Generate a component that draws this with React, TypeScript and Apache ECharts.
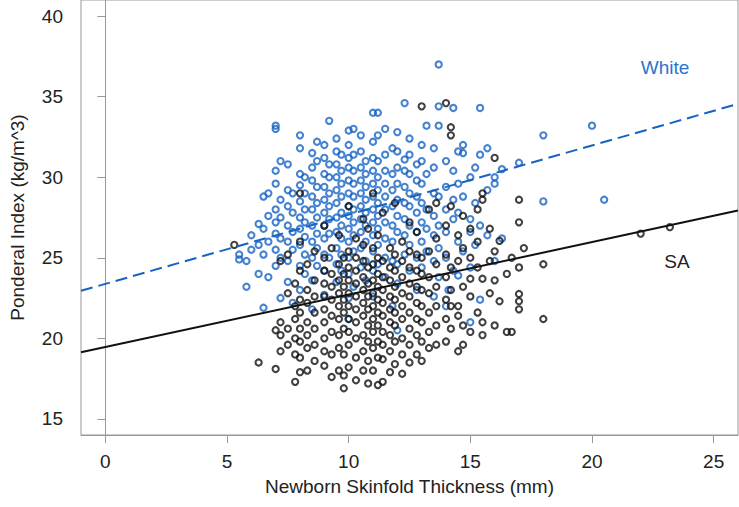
import React, { useEffect, useRef } from "react";
import * as echarts from "echarts";

// White group: [skinfold x, ponderal index values at that x]
const whiteCols: [number, number[]][] = [
  [5.5, [24.9, 25.2]],
  [5.8, [23.2, 24.8]],
  [6.0, [25.5, 26.4]],
  [6.3, [24.0, 25.8, 27.1]],
  [6.5, [21.9, 25.2, 26.8, 28.8]],
  [6.7, [23.8, 26.0, 27.6, 29.0]],
  [7.0, [24.5, 25.5, 26.5, 27.2, 28.0, 29.6, 30.4, 33.0, 33.2]],
  [7.2, [22.5, 25.0, 26.2, 27.5, 28.6, 31.0]],
  [7.5, [23.5, 24.8, 26.0, 27.0, 28.2, 29.2, 30.8]],
  [7.7, [22.2, 25.5, 26.6, 27.8, 29.0]],
  [8.0, [23.0, 24.5, 25.8, 26.8, 27.5, 28.5, 29.5, 30.2, 31.8, 32.6]],
  [8.2, [24.0, 25.2, 26.3, 27.2, 28.0, 29.0, 30.0]],
  [8.5, [21.8, 23.6, 25.0, 26.0, 27.0, 28.0, 28.8, 29.8, 30.6, 31.5]],
  [8.7, [24.5, 25.6, 26.5, 27.5, 28.4, 29.4, 31.0, 32.2]],
  [9.0, [22.7, 24.2, 25.2, 26.2, 27.0, 27.8, 28.6, 29.4, 30.2, 31.2, 32.0]],
  [9.2, [25.0, 26.5, 27.4, 28.2, 29.0, 30.0, 30.8, 33.5]],
  [9.5, [23.5, 24.6, 25.6, 26.6, 27.5, 28.4, 29.2, 30.0, 30.8, 31.6, 32.4]],
  [9.7, [24.2, 25.2, 26.2, 27.0, 27.8, 28.8, 29.6, 30.4, 31.4]],
  [10.0, [21.2, 22.5, 24.0, 25.0, 26.0, 26.8, 27.6, 28.2, 29.0, 29.8, 30.6, 31.2, 32.0, 32.9]],
  [10.2, [23.2, 25.4, 26.4, 27.2, 28.0, 28.8, 29.6, 30.4, 31.4, 33.0]],
  [10.5, [24.4, 25.6, 26.6, 27.4, 28.2, 29.0, 29.8, 30.6, 31.6, 32.6]],
  [10.7, [23.6, 24.8, 26.0, 27.0, 27.8, 28.6, 29.4, 30.2, 31.0]],
  [11.0, [22.6, 24.2, 25.4, 26.4, 27.2, 28.0, 28.8, 29.6, 30.4, 31.2, 32.2, 34.0]],
  [11.2, [24.6, 25.8, 26.8, 27.6, 28.4, 29.2, 30.0, 31.0, 32.6, 34.0]],
  [11.5, [23.8, 25.0, 26.2, 27.2, 28.0, 28.8, 29.6, 30.4, 31.4, 33.0]],
  [11.8, [22.0, 24.8, 26.0, 27.0, 28.2, 29.2, 30.2, 31.8]],
  [12.0, [20.5, 23.4, 24.6, 26.6, 27.6, 28.6, 29.6, 30.6, 31.6, 32.8]],
  [12.3, [25.2, 26.4, 27.4, 28.4, 29.4, 30.4, 31.1, 34.6]],
  [12.5, [24.2, 25.8, 27.0, 28.2, 29.0, 30.2, 31.4, 32.4]],
  [12.8, [23.0, 25.0, 26.6, 27.8, 28.8, 29.8, 30.8]],
  [13.0, [24.4, 26.0, 27.2, 28.4, 29.6, 31.0, 32.0]],
  [13.2, [25.4, 26.8, 28.0, 30.2, 33.2]],
  [13.5, [22.6, 24.8, 26.4, 27.6, 29.0, 30.6, 31.8]],
  [13.7, [23.8, 25.6, 27.0, 28.8, 33.2, 34.4, 37.0]],
  [14.0, [22.0, 25.0, 26.6, 28.0, 29.4, 31.0]],
  [14.1, [23.0]],
  [14.3, [24.2, 27.4, 28.6, 30.4, 34.3]],
  [14.5, [23.9, 26.0, 27.8, 29.6, 31.6]],
  [14.7, [25.4, 28.8, 31.5, 32.0]],
  [15.0, [21.0, 24.4, 26.6, 27.4, 30.0]],
  [15.2, [25.8, 28.4, 30.6]],
  [15.4, [22.4, 27.0, 31.4, 34.3]],
  [15.7, [26.4, 29.2, 31.8]],
  [16.0, [24.8, 29.6, 30.0]],
  [16.3, [26.2, 30.5]],
  [17.0, [30.9]],
  [18.0, [28.5, 32.6]],
  [20.0, [33.2]],
  [20.5, [28.6]],
];

// SA group
const saCols: [number, number[]][] = [
  [5.3, [25.8]],
  [6.3, [18.5]],
  [7.0, [18.1, 20.5]],
  [7.2, [19.2, 20.2, 21.0, 24.8]],
  [7.5, [19.6, 20.6, 22.8, 25.2]],
  [7.8, [17.3, 19.0, 20.0, 21.2, 22.0, 23.4]],
  [8.0, [17.9, 18.8, 19.8, 20.6, 21.6, 22.4, 24.2, 26.0, 29.0]],
  [8.3, [18.0, 19.4, 20.2, 21.0, 22.2, 23.0, 24.6]],
  [8.6, [18.6, 19.6, 20.6, 21.6, 22.6, 23.6, 25.4]],
  [9.0, [18.3, 19.2, 20.0, 21.0, 21.8, 22.6, 23.4, 24.2, 25.0, 27.0]],
  [9.3, [17.6, 19.0, 20.4, 21.4, 22.4, 23.2, 24.0, 25.6]],
  [9.6, [18.0, 19.4, 20.2, 21.2, 22.0, 22.8, 23.6, 24.6, 26.4]],
  [9.8, [16.9, 17.7, 19.0, 20.6, 21.6, 22.4, 23.2, 24.0, 25.0]],
  [10.0, [18.2, 19.6, 20.4, 21.2, 22.0, 22.8, 23.6, 24.4, 25.4, 28.2]],
  [10.3, [17.4, 18.8, 20.0, 21.0, 21.8, 22.6, 23.4, 24.2, 25.0, 26.2]],
  [10.6, [18.0, 19.2, 20.2, 21.4, 22.2, 23.0, 23.8, 24.8, 25.8, 27.4]],
  [10.8, [17.2, 18.6, 19.8, 20.8, 21.8, 22.6, 23.4, 24.4, 26.8]],
  [11.0, [18.0, 19.4, 20.4, 21.2, 22.0, 22.8, 23.6, 24.6, 25.6, 29.0]],
  [11.2, [17.1, 18.8, 19.8, 20.8, 21.6, 22.4, 23.2, 24.0, 25.0, 26.4]],
  [11.4, [17.3, 18.7, 19.6, 20.4, 21.4, 22.2, 23.0, 23.8, 24.8, 27.8]],
  [11.7, [17.9, 19.2, 20.2, 21.0, 21.8, 22.6, 23.6, 24.4, 25.6]],
  [11.9, [18.4, 19.8, 20.8, 21.6, 22.4, 23.2, 24.2, 25.2, 28.4]],
  [12.2, [17.8, 19.0, 20.0, 21.2, 22.0, 22.8, 23.8, 24.8, 26.0]],
  [12.5, [18.5, 19.6, 20.6, 21.6, 22.6, 23.4, 24.4, 25.4, 27.2]],
  [12.8, [19.0, 20.2, 21.2, 22.2, 23.2, 24.2, 25.2, 26.6]],
  [13.0, [18.6, 19.8, 21.0, 22.0, 23.0, 24.0, 25.0, 34.4]],
  [13.3, [19.4, 20.4, 21.6, 22.8, 23.8, 25.4, 28.0]],
  [13.6, [19.6, 20.8, 22.0, 23.2, 24.6, 26.2, 28.4]],
  [14.0, [19.8, 21.2, 22.4, 23.8, 25.2, 27.0, 34.6]],
  [14.2, [20.6, 22.0, 23.0, 24.4, 28.2, 32.6, 33.1]],
  [14.5, [19.2, 21.4, 22.0, 24.8, 26.4]],
  [14.7, [19.6, 20.8, 23.2, 25.6, 27.6]],
  [15.0, [20.4, 22.6, 23.7, 25.0, 26.8]],
  [15.3, [21.6, 24.4, 26.0, 28.0]],
  [15.5, [20.2, 21.0, 23.7, 28.6, 29.0]],
  [15.8, [22.8, 24.8, 26.8]],
  [16.0, [20.8, 23.6, 25.4, 31.2]],
  [16.2, [22.3, 26.05]],
  [16.5, [20.4, 24.0]],
  [16.7, [20.4, 25.0]],
  [17.0, [21.8, 22.3, 22.75, 24.4, 27.2, 28.6]],
  [17.2, [25.6]],
  [18.0, [21.2, 24.6]],
  [22.0, [26.5]],
  [23.2, [26.9]],
];

// Fitted regression lines (endpoints at plot edges)
const whiteFit: [number, number][] = [[-1, 22.95], [26, 34.55]];
const saFit: [number, number][] = [[-1, 19.13], [26, 27.93]];

const xTicks = [0, 5, 10, 15, 20, 25];
const yTicks = [15, 20, 25, 30, 35, 40];

const BLUE = "#1663c4";
const BLACK = "#111111";
const FONT = "Liberation Sans, Arial, Helvetica, sans-serif";
const TEXT = "#222222";

function flatten(cols: [number, number[]][]): [number, number][] {
  const out: [number, number][] = [];
  cols.forEach(([x, ys]) => ys.forEach((y) => out.push([x, y])));
  return out;
}

export default function App() {
  const ref = useRef<HTMLDivElement>(null);
  useEffect(() => {
    if (!ref.current) return;
    const chart = echarts.init(ref.current, null, { renderer: "svg" });
    const axisCommon = {
      type: "value" as const,
      splitLine: { show: false },
      axisLine: { show: true, lineStyle: { color: "#999", width: 1 } },
      axisTick: { show: true, length: 8, inside: false, lineStyle: { color: "#999", width: 1 } },
      nameLocation: "middle" as const,
      nameTextStyle: { fontFamily: FONT, fontSize: 19, color: TEXT },
    };
    const pointStyle = (c: string) => ({
      color: "transparent",
      borderColor: c,
      borderWidth: 2.1,
    });
    chart.setOption({
      animation: false,
      backgroundColor: "#ffffff",
      grid: {
        left: 78,
        right: 1,
        top: 0,
        bottom: 72,
        show: true,
        borderColor: "#999",
        borderWidth: 1,
      },
      xAxis: {
        ...axisCommon,
        min: -1,
        max: 26,
        name: "Newborn Skinfold Thickness (mm)",
        nameGap: 42,
        axisTick: { ...axisCommon.axisTick, customValues: xTicks },
        axisLabel: {
          customValues: xTicks,
          margin: 17,
          fontFamily: FONT,
          fontSize: 19,
          color: TEXT,
        },
      },
      yAxis: {
        ...axisCommon,
        min: 14,
        max: 41,
        name: "Ponderal Index (kg/m^3)",
        nameGap: 54,
        axisTick: { ...axisCommon.axisTick, customValues: yTicks },
        axisLabel: {
          customValues: yTicks,
          margin: 18,
          fontFamily: FONT,
          fontSize: 19,
          color: TEXT,
        },
      },
      series: [
        {
          type: "scatter",
          name: "White",
          data: flatten(whiteCols),
          symbol: "circle",
          symbolSize: 6.2,
          itemStyle: pointStyle(BLUE),
          z: 2,
        },
        {
          type: "scatter",
          name: "SA",
          data: flatten(saCols),
          symbol: "circle",
          symbolSize: 6.2,
          itemStyle: pointStyle(BLACK),
          z: 3,
        },
        {
          type: "line",
          data: whiteFit,
          symbol: "none",
          lineStyle: { color: BLUE, width: 2, type: [12, 6] },
          z: 4,
        },
        {
          type: "line",
          data: saFit,
          symbol: "none",
          lineStyle: { color: BLACK, width: 2 },
          z: 4,
        },
      ],
      graphic: [
        {
          type: "text",
          x: 665,
          y: 67,
          style: {
            text: "White",
            fill: "#2a74cf",
            font: `19px ${FONT}`,
            textAlign: "center",
            textVerticalAlign: "middle",
          },
        },
        {
          type: "text",
          x: 677,
          y: 261,
          style: {
            text: "SA",
            fill: TEXT,
            font: `19px ${FONT}`,
            textAlign: "center",
            textVerticalAlign: "middle",
          },
        },
      ],
    });
    return () => chart.dispose();
  }, []);
  return (
    <div
      ref={ref}
      style={{ position: "fixed", left: 0, top: 0, width: 739, height: 507, background: "#fff" }}
    />
  );
}
